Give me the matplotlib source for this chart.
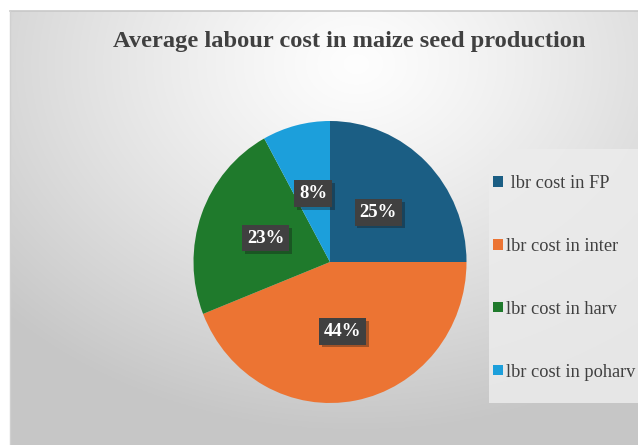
import numpy as np
import matplotlib
matplotlib.use("Agg")
import matplotlib.pyplot as plt
import matplotlib.patheffects as pe
from matplotlib.patches import Rectangle

# ---- data ----
title = "Average labour cost in maize seed production"
categories = [" lbr cost in FP", "lbr cost in inter", "lbr cost in harv", "lbr cost in poharv"]
values = [25, 44, 23, 8]
colors = ["#1b5e84", "#ec7433", "#1f7a2c", "#1c9fdb"]

W, H = 638, 445
fig = plt.figure(figsize=(W / 100, H / 100), dpi=100)
fig.patch.set_facecolor("white")

# ---- background with gradient (chart area) ----
bx0, by0 = 10, 11  # pixel offsets of chart area (left, top)
bg = fig.add_axes([bx0 / W, 0, 1 - bx0 / W, 1 - by0 / H])
bg.set_axis_off()
ny, nx = 200, 300
yy, xx = np.mgrid[0:ny, 0:nx]
cx, cy = nx * 0.55, ny * 0.12
d = np.sqrt(((xx - cx) / nx) ** 2 + ((yy - cy) / ny * 0.9) ** 2)
v = 0.995 - 0.30 * np.clip(d, 0, 1) ** 1.2
v = np.clip(v, 0.78, 1.0)
img = np.dstack([v, v, v])
bg.imshow(img, aspect="auto", extent=[0, 1, 0, 1], interpolation="bilinear")
bg.set_xlim(0, 1)
bg.set_ylim(0, 1)
bg.plot([0, 1], [1, 1], color="#c8c8c8", lw=1.2, transform=bg.transAxes, clip_on=False)
bg.plot([0, 0], [0, 1], color="#d0d0d0", lw=1.0, transform=bg.transAxes, clip_on=False)

# ---- pie ----
pcx, pcy = 330, 262
rx, ry = 136.5, 141
lim = 1.1
ax = fig.add_axes([(pcx - lim * rx) / W, (H - pcy - lim * ry) / H,
                   2 * lim * rx / W, 2 * lim * ry / H])
wedges, texts, autotexts = ax.pie(values, colors=colors, startangle=90, counterclock=False,
                                  autopct="%d%%", pctdistance=0.5,
                                  wedgeprops=dict(linewidth=0),
                                  textprops=dict(family="Liberation Serif", weight="bold",
                                                 color="white", fontsize=13.5))
ax.set_aspect("auto")
ax.set_xlim(-lim, lim)
ax.set_ylim(-lim, lim)
for t in autotexts:
    t.set_bbox(dict(boxstyle="square,pad=0.26", facecolor="#404040", edgecolor="none"))
    t.get_bbox_patch().set_path_effects([pe.SimplePatchShadow(offset=(2, -2), alpha=0.35), pe.Normal()])

# ---- title ----
fig.text(349 / W, 1 - 41 / H, title, ha="center", va="center",
         family="Liberation Serif", weight="bold", fontsize=17.6, color="#404040")

# ---- legend ----
lx0, ly0, lx1, ly1 = 489, 149, 640, 403
fig.patches.append(Rectangle((lx0 / W, 1 - ly1 / H), (lx1 - lx0) / W, (ly1 - ly0) / H,
                             transform=fig.transFigure, facecolor="#ececec",
                             edgecolor="none", alpha=0.85, zorder=1))
handles = [Rectangle((0, 0), 1, 1, facecolor=c, edgecolor="none") for c in colors]
leg = fig.legend(handles, categories, loc="upper left",
                 bbox_to_anchor=(lx0 / W + 0.007, 1 - 175 / H),
                 frameon=False, prop=dict(family="Liberation Serif", size=13.2),
                 labelcolor="#404040", handlelength=0.5, handleheight=0.5,
                 handletextpad=0.2, labelspacing=2.5, borderpad=0, borderaxespad=0)

fig.savefig("out.png", dpi=100)
